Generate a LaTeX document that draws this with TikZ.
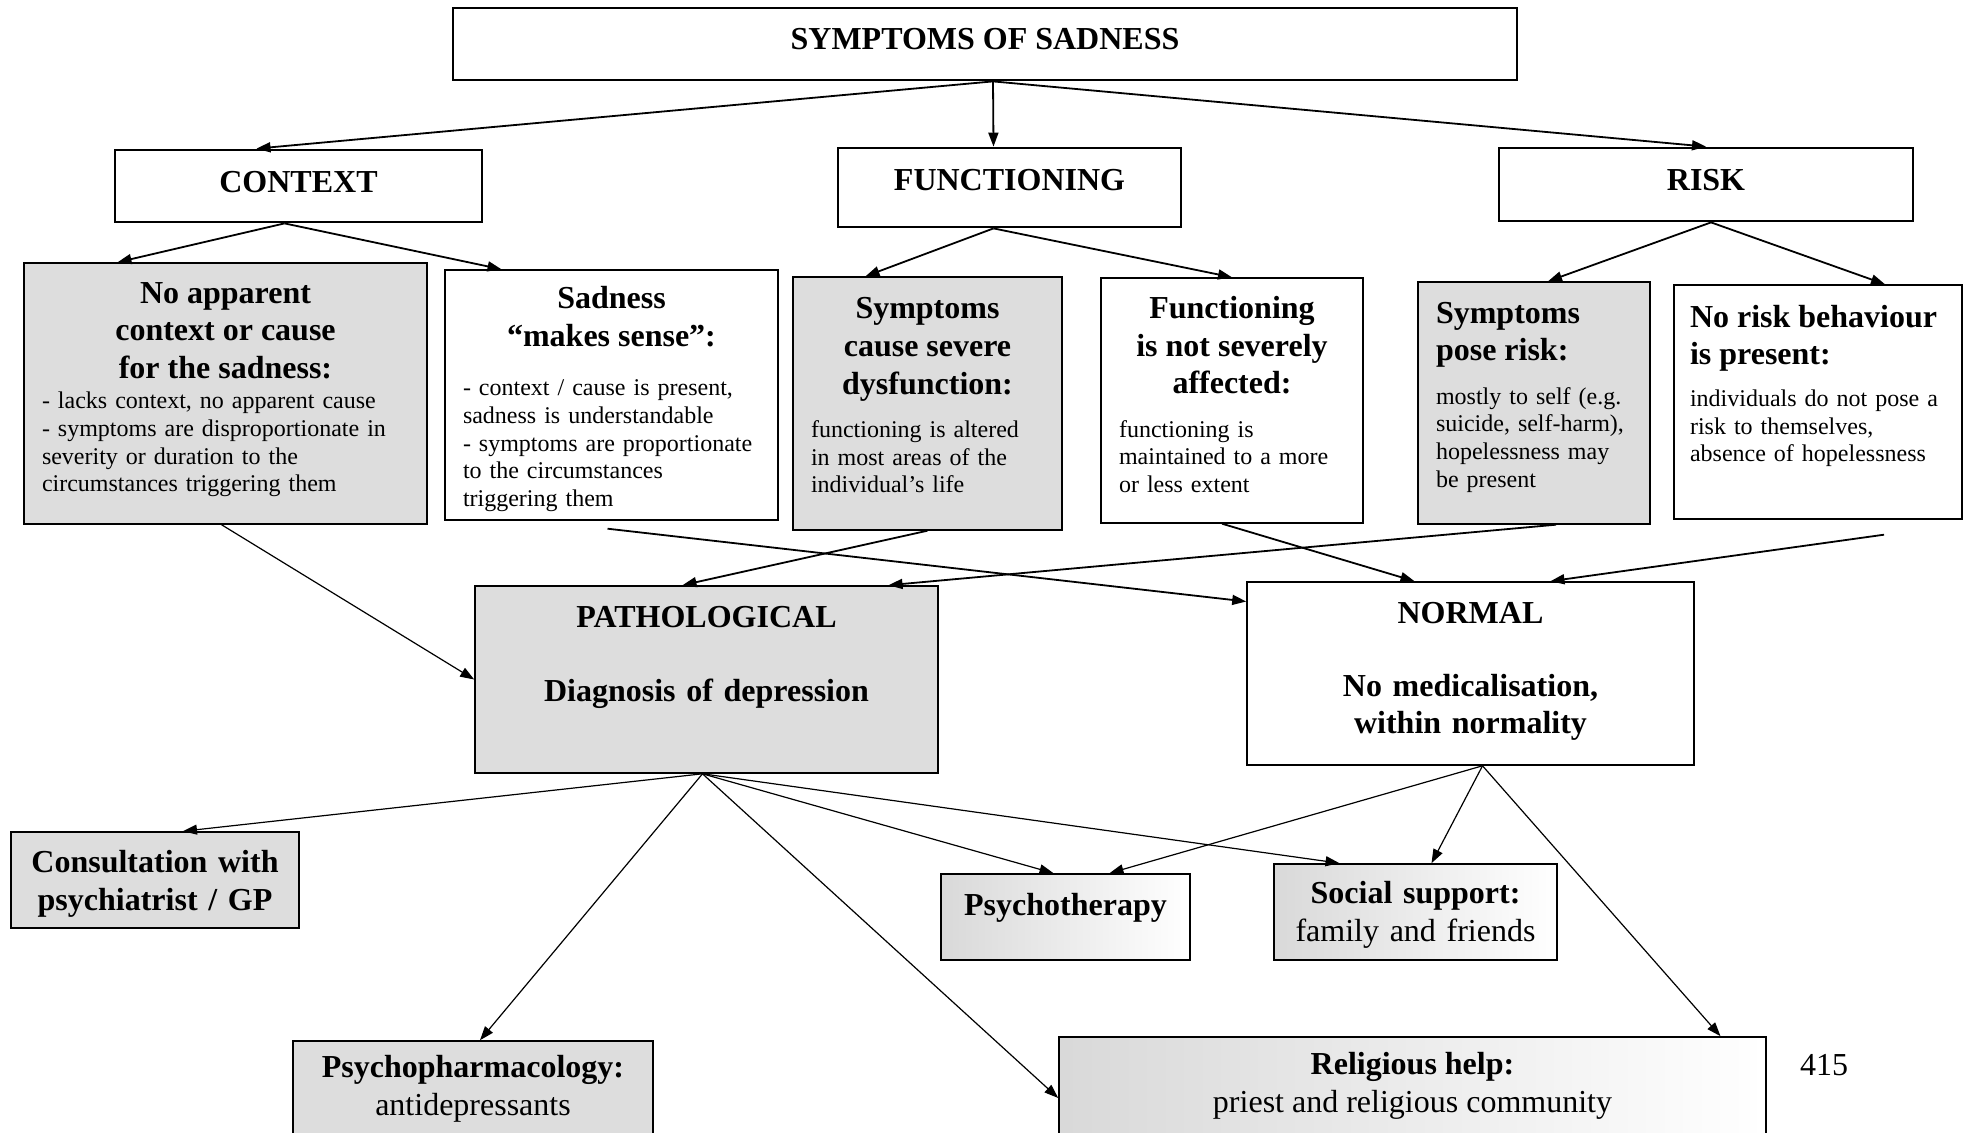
\documentclass[tikz,border=0pt]{standalone}
\usepackage{fontspec}
\setmainfont{Liberation Serif}
\usepackage{xcolor}
\usetikzlibrary{arrows.meta,calc}
\definecolor{boxgray}{HTML}{DDDDDD}
\newcommand{\hdfont}{\fontsize{16}{18.8}\selectfont\bfseries}
\newcommand{\txfont}{\fontsize{12}{13.8}\selectfont}
\newcommand{\padb}[1]{\par\nointerlineskip\vspace*{#1}\hbox{}}

\begin{document}
\begin{tikzpicture}[x=0.5pt,y=-0.5pt,
  headbox/.style={draw,line width=1.4pt,font=\hdfont,inner sep=0pt,text height=10.6pt,text depth=4.5pt},
  infobox/.style={draw,line width=0.7pt,fill=#1,font=\txfont,inner xsep=9pt,inner ysep=0pt,align=left},
  infobox/.default=white,
  resbox/.style={draw,line width=0.8pt,fill=#1,font=\hdfont,inner sep=0pt,align=center},
  resbox/.default=white,
  helpbox/.style={draw,line width=0.8pt,left color=gray!30,right color=white,font=\hdfont,inner sep=0pt},
  ref/.style={-{Triangle[length=7pt,width=5pt]},line width=0.9pt},
  subref/.style={-{Triangle[length=7pt,width=5pt]},line width=0.6pt}]
\path[use as bounding box,clip] (0,0) rectangle (1969,1133);

\node[headbox,minimum width=532pt,minimum height=36pt,text depth=5pt] (title) at (985,44) {SYMPTOMS OF SADNESS};
\node[headbox,minimum width=183.5pt,minimum height=36pt] (ctx) at (298.5,186) {CONTEXT};
\node[headbox,minimum width=171.5pt,minimum height=39.5pt,text depth=7.5pt] (fun) at (1009.5,187.5) {FUNCTIONING};
\node[headbox,minimum width=207pt,minimum height=36.5pt] (risk) at (1706,184.5) {RISK};

\node[infobox=boxgray,minimum width=201.5pt,minimum height=130.5pt,text width=183.5pt] (noctx) at (225.5,393.5)
  {{\centering\hdfont No apparent\\context or cause\\for the sadness:\par}\vspace{1.5pt}
   - lacks context, no apparent cause\\- symptoms are disproportionate in\\severity or duration to the\\circumstances triggering them\padb{4pt}};
\node[infobox,minimum width=166.5pt,minimum height=125pt,text width=148.5pt] (sad) at (611.5,395)
  {{\centering\hdfont Sadness\\“makes sense”:\par}\vspace{11pt}
   - context / cause is present,\\sadness is understandable\\- symptoms are proportionate\\to the circumstances\\triggering them\padb{-4pt}};
\node[infobox=boxgray,minimum width=134.5pt,minimum height=126.5pt,text width=116.5pt] (sev) at (927.5,403.5)
  {{\centering\hdfont Symptoms\\cause severe\\dysfunction:\par}\vspace{8pt}
   functioning is altered\\in most areas of the\\individual’s life\padb{8pt}};
\node[infobox,minimum width=131pt,minimum height=122.5pt,text width=113pt] (notsev) at (1232,400.5)
  {{\centering\hdfont Functioning\\is not severely\\affected:\par}\vspace{8pt}
   functioning is\\maintained to a more\\or less extent\padb{6pt}};
\node[infobox=boxgray,minimum width=116pt,minimum height=121pt,text width=98pt] (poserisk) at (1534,403)
  {{\hdfont Symptoms\\pose risk:\par}\vspace{8pt}
   mostly to self (e.g.\\suicide, self-harm),\\hopelessness may\\be present\padb{6pt}};
\node[infobox,minimum width=144pt,minimum height=117pt,text width=128pt,inner xsep=8pt] (norisk) at (1818,402)
  {{\hdfont No risk behaviour\\is present:\par}\vspace{7pt}
   individuals do not pose a\\risk to themselves,\\absence of hopelessness\padb{16pt}};

\node[resbox=boxgray,minimum width=231.5pt,minimum height=93.5pt,text width=220pt] (path) at (706.5,679.5)
  {PATHOLOGICAL\\[18.2pt]Diagnosis of depression\padb{22pt}};
\node[resbox,minimum width=223.5pt,minimum height=91.5pt,text width=212pt] (norm) at (1470.5,673.5)
  {NORMAL\\[17.5pt]No medicalisation,\\within normality\padb{2pt}};

\node[resbox=boxgray,minimum width=144pt,minimum height=48pt,text width=140pt] (cons) at (155,880) {Consultation with\\psychiatrist / GP\padb{-4pt}};
\node[resbox=boxgray,minimum width=180pt,minimum height=48pt] (pharm) at (473,1089) {Psychopharmacology:\\{\mdseries antidepressants}};
\node[helpbox,minimum width=124.5pt,minimum height=43pt,text height=11pt,text depth=13pt] (psyth) at (1065.5,917) {Psychotherapy};
\node[helpbox,align=center,minimum width=141.5pt,minimum height=48pt,text width=136pt] (social) at (1415.5,912) {Social support:\\{\mdseries family and friends}\padb{-3pt}};
\node[helpbox,align=center,minimum width=353.5pt,minimum height=49pt] (relig) at (1412.5,1086) {Religious help:\\{\mdseries priest and religious community}};
\node[font=\fontsize{16}{18.8}\selectfont] (pg) at (1824,1065) {415};

\draw[ref] ([xshift=4pt]title.south) -- ([xshift=-21pt]ctx.north);
\draw[ref] ([xshift=4pt]title.south) -- ([xshift=-8pt]fun.north);
\draw[ref] ([xshift=4pt]title.south) -- (risk.north);
\draw[ref] ([xshift=-7pt]ctx.south) -- ([xshift=-54pt]noctx.north);
\draw[ref] ([xshift=-7pt]ctx.south) -- ([xshift=-55pt]sad.north);
\draw[ref] ([xshift=-8pt]fun.south) -- ([xshift=-31pt]sev.north);
\draw[ref] ([xshift=-8pt]fun.south) -- (notsev.north);
\draw[ref] ([xshift=2.5pt]risk.south) -- ([xshift=7pt]poserisk.north);
\draw[ref] ([xshift=2.5pt]risk.south) -- ([xshift=33.5pt]norisk.north);

\draw[subref] ([xshift=-2pt]noctx.south) -- (path.west);
\draw[ref] ([xshift=-2pt,yshift=-4pt]sad.south) -- ([yshift=36pt]norm.west);
\draw[ref] (sev.south) -- ([xshift=-12pt]path.north);
\draw[ref] ([xshift=-5pt]notsev.south) -- ([xshift=-28pt]norm.north);
\draw[ref] ([xshift=11pt]poserisk.south) -- ([xshift=91pt]path.north);
\draw[ref] ([xshift=33pt,yshift=-7.5pt]norisk.south) -- ([xshift=40pt]norm.north);

\draw[subref] ([xshift=-2pt]path.south) -- ([xshift=14pt]cons.north);
\draw[subref] ([xshift=-2pt]path.south) -- ([xshift=3.5pt]pharm.north);
\draw[subref] ([xshift=-2pt]path.south) -- ([xshift=-6pt]psyth.north);
\draw[subref] ([xshift=-2pt]path.south) -- ([xshift=-38pt]social.north);
\draw[subref] ([xshift=-2pt]path.south) -- ([yshift=-6pt]relig.west);
\draw[subref] ([xshift=6pt]norm.south) -- ([xshift=22pt]psyth.north);
\draw[subref] ([xshift=6pt]norm.south) -- ([xshift=8pt]social.north);
\draw[subref] ([xshift=6pt]norm.south) -- ([xshift=154pt]relig.north);
\end{tikzpicture}
\end{document}
